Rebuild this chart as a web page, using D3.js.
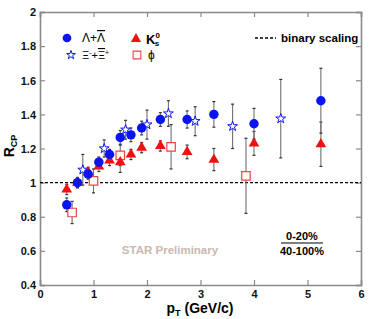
<!DOCTYPE html>
<html>
<head>
<meta charset="utf-8">
<script src="https://cdn.jsdelivr.net/npm/d3@7"></script>
<style>
  body { margin: 0; background: #fff; }
  svg text { font-family: "Liberation Sans", Arial, sans-serif; font-weight: bold; }
</style>
</head>
<body>
<svg id="chart" width="382" height="319"></svg>
<script>
// Lambda + anti-Lambda
const lambdaPt  = [0.5, 0.7, 0.9, 1.1, 1.3, 1.5, 1.7, 1.9, 2.25, 2.75, 3.25, 4.0, 5.25]
const lambdaR   = [0.87, 1.0, 1.05, 1.12, 1.165, 1.265, 1.28, 1.32, 1.37, 1.37, 1.40, 1.345, 1.48]
const lambdaErr = [0.04, 0.03, 0.03, 0.03, 0.03, 0.04, 0.04, 0.04, 0.04, 0.05, 0.075, 0.09, 0.19]

// K0s
const k0sPt  = [0.5, 0.7, 0.9, 1.1, 1.3, 1.5, 1.7, 1.9, 2.25, 2.75, 3.25, 4.0, 5.25]
const k0sR   = [0.96, 1.0, 1.06, 1.095, 1.13, 1.12, 1.165, 1.205, 1.215, 1.18, 1.135, 1.23, 1.225]
const k0sErr = [0.03, 0.03, 0.03, 0.03, 0.03, 0.06, 0.03, 0.03, 0.03, 0.04, 0.065, 0.07, 0.13]

// Xi + anti-Xi
const xiPt  = [0.8, 1.2, 1.6, 2.0, 2.4, 2.9, 3.6, 4.5]
const xiR   = [1.075, 1.2, 1.31, 1.34, 1.405, 1.36, 1.33, 1.375]
const xiErr = [0.09, 0.05, 0.055, 0.085, 0.075, 0.085, 0.13, 0.23]

// phi
const phiPt  = [0.6, 1.0, 1.5, 2.45, 3.85]
const phiR   = [0.825, 1.01, 1.16, 1.21, 1.04]
const phiErr = [0.065, 0.07, 0.06, 0.13, 0.22]

const xTicks = [0, 1, 2, 3, 4, 5, 6]
const yTicks = [0.4, 0.6, 0.8, 1, 1.2, 1.4, 1.6, 1.8, 2]

const zip = (xs, ys, es) => xs.map((x, i) => ({x: x, y: ys[i], e: es[i]}))

const svg = d3.select("#chart")
const plotL = 40, plotR = 361, plotT = 12, plotB = 285

let xScale = d3.scaleLinear().domain([0, 6]).range([plotL, plotR])
let yScale = d3.scaleLinear().domain([0.4, 2]).range([plotB, plotT])

const fmt = d => String(+d.toFixed(1))
const axisColor = "#8a8a8a"

// frame axes, ticks pointing inward
let gLeft = svg.append("g").attr("transform", `translate(${plotL},0)`)
    .call(d3.axisLeft(yScale).tickValues(yTicks).tickSize(-5).tickPadding(4).tickFormat(fmt))
let gBottom = svg.append("g").attr("transform", `translate(0,${plotB})`)
    .call(d3.axisBottom(xScale).tickValues(xTicks).tickSize(-5).tickPadding(4).tickFormat(fmt))
let gTop = svg.append("g").attr("transform", `translate(0,${plotT})`)
    .call(d3.axisTop(xScale).tickValues(xTicks).tickSize(-5).tickFormat(""))
let gRight = svg.append("g").attr("transform", `translate(${plotR},0)`)
    .call(d3.axisRight(yScale).tickValues(yTicks).tickSize(-5).tickFormat(""))

for (let g of [gLeft, gBottom, gTop, gRight]) {
    g.select(".domain").attr("stroke", axisColor).attr("stroke-width", 1.6)
    g.selectAll(".tick line").attr("stroke", axisColor).attr("stroke-width", 1.2)
    g.selectAll(".tick text").attr("fill", "#111").style("font-size", "11px")
        .style("font-family", "Liberation Sans, Arial, sans-serif").style("font-weight", "bold")
}
gLeft.selectAll(".tick text").attr("dy", "0.35em")
gBottom.selectAll(".tick text").attr("dy", "0.8em")

// binary scaling line
svg.append("line")
    .attr("x1", xScale(0)).attr("x2", xScale(6))
    .attr("y1", yScale(1)).attr("y2", yScale(1))
    .attr("stroke", "#000").attr("stroke-width", 1.4).attr("stroke-dasharray", "3,2")

// error bars
function errorBars(data) {
    let g = svg.append("g")
    g.selectAll("line.bar").data(data).enter().append("line")
        .attr("x1", d => xScale(d.x)).attr("x2", d => xScale(d.x))
        .attr("y1", d => yScale(d.y - d.e)).attr("y2", d => yScale(d.y + d.e))
        .attr("stroke", "#707070").attr("stroke-width", 1.1)
    for (let s of [-1, 1]) {
        g.selectAll("line.cap" + (s > 0 ? "u" : "d")).data(data).enter().append("line")
            .attr("x1", d => xScale(d.x) - 1.5).attr("x2", d => xScale(d.x) + 1.5)
            .attr("y1", d => yScale(d.y + s * d.e)).attr("y2", d => yScale(d.y + s * d.e))
            .attr("stroke", "#333").attr("stroke-width", 1.2)
    }
}

const lambdaData = zip(lambdaPt, lambdaR, lambdaErr)
const k0sData = zip(k0sPt, k0sR, k0sErr)
const xiData = zip(xiPt, xiR, xiErr)
const phiData = zip(phiPt, phiR, phiErr)

errorBars(phiData)
errorBars(xiData)
errorBars(k0sData)
errorBars(lambdaData)

const blue = "#0a14f0", red = "#f01010", lightRed = "#ee4444"

function markers(data, type, size, fill, stroke, sw) {
    svg.append("g").selectAll("path").data(data).enter().append("path")
        .attr("transform", d => `translate(${xScale(d.x)},${yScale(d.y)})`)
        .attr("d", d3.symbol().type(type).size(size))
        .attr("fill", fill).attr("stroke", stroke).attr("stroke-width", sw)
}

markers(phiData, d3.symbolSquare, 72, "#fff", lightRed, 1.2)
markers(xiData, d3.symbolStar, 30, "#fff", blue, 1)
markers(k0sData, d3.symbolTriangle, 50, red, "none", 0)
markers(lambdaData, d3.symbolCircle, 70, blue, "none", 0)

// legend
const legend = svg.append("g")
function legendSymbol(x, y, type, size, fill, stroke, sw) {
    legend.append("path").attr("transform", `translate(${x},${y})`)
        .attr("d", d3.symbol().type(type).size(size))
        .attr("fill", fill).attr("stroke", stroke).attr("stroke-width", sw)
}
legendSymbol(67, 38, d3.symbolCircle, 60, blue, "none", 0)
legendSymbol(71, 55, d3.symbolStar, 24, "#fff", blue, 1)
legendSymbol(136, 39, d3.symbolTriangle, 45, red, "none", 0)
legendSymbol(137, 55, d3.symbolSquare, 60, "#fff", lightRed, 1.1)

let t1 = legend.append("text").attr("x", 82).attr("y", 42).style("font-size", "12px").style("font-weight", "normal")
t1.append("tspan").text("Λ+")
t1.append("tspan").text("Λ").style("text-decoration", "overline")

let t2 = legend.append("text").attr("x", 82).attr("y", 59).style("font-size", "11px").style("font-weight", "normal")
t2.append("tspan").text("Ξ")
t2.append("tspan").text("-").attr("dy", -4).style("font-size", "7px")
t2.append("tspan").text("+").attr("dy", 4)
t2.append("tspan").text("Ξ").style("text-decoration", "overline")
t2.append("tspan").text("+").attr("dy", -4).style("font-size", "7px")

let t3 = legend.append("text").attr("x", 146).attr("y", 44).style("font-size", "13px")
t3.append("tspan").text("K")
t3.append("tspan").text("0").attr("dy", -6).style("font-size", "8px")
t3.append("tspan").text("s").attr("dx", -5).attr("dy", 8).style("font-size", "8px")

legend.append("text").attr("x", 148).attr("y", 59).style("font-size", "12px").style("font-weight", "normal").text("ϕ")

legend.append("line").attr("x1", 255).attr("x2", 276).attr("y1", 38).attr("y2", 38)
    .attr("stroke", "#000").attr("stroke-width", 1.3).attr("stroke-dasharray", "3,2")
legend.append("text").attr("x", 281).attr("y", 42).style("font-size", "11.5px").text("binary scaling")

// annotations
svg.append("text").attr("x", 170).attr("y", 254).attr("text-anchor", "middle")
    .style("font-size", "11.5px").attr("fill", "#c9b8b0").text("STAR Preliminary")
svg.append("text").attr("x", 302).attr("y", 240).attr("text-anchor", "middle")
    .style("font-size", "11px").text("0-20%")
svg.append("line").attr("x1", 281).attr("x2", 323).attr("y1", 243).attr("y2", 243)
    .attr("stroke", "#000").attr("stroke-width", 1.2)
svg.append("text").attr("x", 302).attr("y", 255).attr("text-anchor", "middle")
    .style("font-size", "11px").text("40-100%")

// axis titles
let xt = svg.append("text").attr("x", 200).attr("y", 313).attr("text-anchor", "middle").style("font-size", "14px")
xt.append("tspan").text("p")
xt.append("tspan").text("T").attr("dy", 3).style("font-size", "9px")
xt.append("tspan").text(" (GeV/c)").attr("dy", -3)

let yt = svg.append("text").attr("transform", "translate(14,146) rotate(-90)").attr("text-anchor", "middle").style("font-size", "14px")
yt.append("tspan").text("R")
yt.append("tspan").text("CP").attr("dy", 3).style("font-size", "9px")
</script>
</body>
</html>
